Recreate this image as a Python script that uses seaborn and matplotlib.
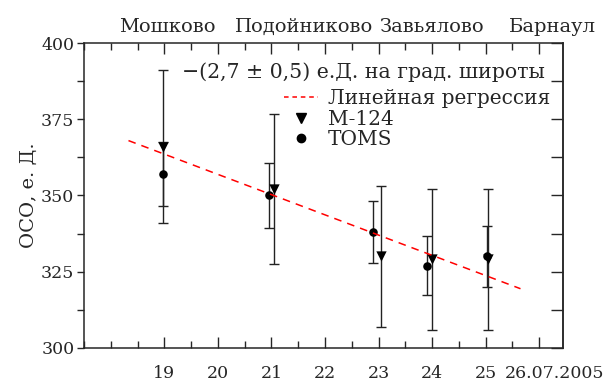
import matplotlib
matplotlib.use("Agg")
import matplotlib.pyplot as plt
import matplotlib.transforms as mtransforms
from matplotlib.lines import Line2D
from matplotlib.ticker import MultipleLocator, FixedLocator
import seaborn as sns

# data (days of July 2005, total ozone in DU)
days_m124 = [18.98, 21.04, 23.05, 24.0, 25.04]
oco_m124 = [366, 352, 330, 329, 329]
err_m124 = [25, 24.6, 23, 23, 23]

days_toms = [18.97, 20.96, 22.9, 23.9, 25.02]
oco_toms = [357, 350, 338, 327, 330]
err_toms = [10.5, 10.6, 10.2, 9.8, 9.9]

reg_days = [18.33, 25.65]
reg_oco = [368, 319.4]

day_ticks = [19, 20, 21, 22, 23, 24, 25, 26]
day_labels = ["19", "20", "21", "22", "23", "24", "25", "26.07.2005"]
towns = ["Мошково", "Подойниково", "Завьялово", "Барнаул"]
town_pos = [19.05, 21.6, 24.0, 26.25]

sns.set_style("ticks")
plt.rcParams["font.family"] = ["DejaVu Serif"]
plt.rcParams["axes.linewidth"] = 1.1

fig = plt.figure(figsize=(6.09, 3.81), dpi=100)
ax = fig.add_axes([0.138, 0.087, 0.787, 0.800])

ax.errorbar(days_m124, oco_m124, yerr=err_m124, fmt="none", ecolor="#222222",
            elinewidth=1, capsize=3.6, capthick=1, zorder=2)
ax.errorbar(days_toms, oco_toms, yerr=err_toms, fmt="none", ecolor="#222222",
            elinewidth=1, capsize=3.6, capthick=1, zorder=2)
sns.scatterplot(x=days_m124, y=oco_m124, marker="v", s=55, color="black",
                edgecolor="black", linewidth=0, ax=ax, zorder=3)
sns.scatterplot(x=days_toms, y=oco_toms, marker="o", s=38, color="black",
                edgecolor="black", linewidth=0, ax=ax, zorder=3)
sns.lineplot(x=reg_days, y=reg_oco, color="red", linestyle=(0, (5, 4)), lw=1.1,
             ax=ax, zorder=4)

ax.set_xlim(17.5, 26.45)
ax.set_ylim(300, 400)

ax.xaxis.set_major_locator(FixedLocator(day_ticks))
ax.set_xticklabels(day_labels)
ax.xaxis.set_minor_locator(MultipleLocator(0.5))
ax.yaxis.set_major_locator(MultipleLocator(25))
ax.yaxis.set_minor_locator(MultipleLocator(12.5))

ax.tick_params(axis="x", which="both", direction="in", top=True, bottom=True,
               labelsize=12.5, pad=12)
ax.tick_params(axis="x", which="major", length=8, width=1)
ax.tick_params(axis="x", which="minor", length=5, width=1)
ax.tick_params(axis="y", which="both", direction="out", right=False,
               labelsize=12.5, length=5, width=1, pad=2)

# last date label runs to the right of its tick
lab = ax.get_xticklabels()[-1]
lab.set_ha("left")
lab.set_transform(lab.get_transform() +
                  mtransforms.ScaledTranslation(-34 / 100, 0, fig.dpi_scale_trans))

sec = ax.secondary_yaxis("right")
sec.yaxis.set_major_locator(MultipleLocator(12.5))
sec.tick_params(direction="in", length=9, width=1, labelright=False)

ax.set_ylabel("ОСО, е. Д.", fontsize=14, labelpad=2)
ax.set_xlabel("")

trans = mtransforms.blended_transform_factory(ax.transData, ax.transAxes)
for pos, name in zip(town_pos, towns):
    ax.text(pos, 1.035, name, transform=trans, ha="center", va="baseline",
            fontsize=14)

ax.text(0.962, 0.905, "−(2,7 ± 0,5) е.Д. на град. широты", transform=ax.transAxes,
        ha="right", va="center", fontsize=14.8)

handles = [
    Line2D([], [], color="red", linestyle=(0, (3, 2.5)), lw=1.1),
    Line2D([], [], color="black", marker="v", linestyle="none", markersize=7),
    Line2D([], [], color="black", marker="o", linestyle="none", markersize=6),
]
leg = ax.legend(handles, ["Линейная регрессия", "M-124", "TOMS"],
                fontsize=14.5, frameon=False,
                loc="upper right", bbox_to_anchor=(0.973, 0.849),
                handlelength=1.7, handletextpad=0.5,
                labelspacing=0.08, borderpad=0, borderaxespad=0)

fig.savefig("out.png", dpi=100)
